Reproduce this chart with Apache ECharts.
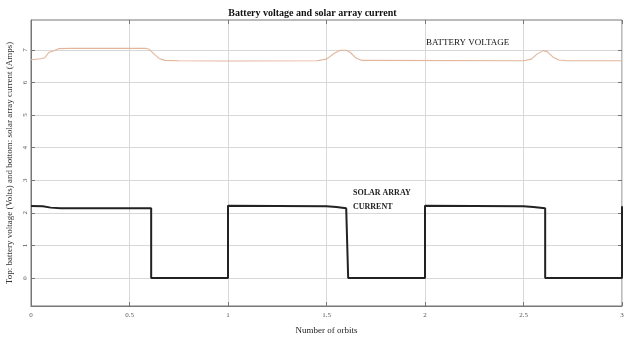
<!DOCTYPE html>
<html><head><meta charset="utf-8">
<script src="https://cdn.jsdelivr.net/npm/echarts@6/dist/echarts.min.js"></script>
<style>html,body{margin:0;padding:0;background:#fff}#c{width:625px;height:339px}</style>
</head><body><div id="c"></div>
<script>
const titleText = 'Battery voltage and solar array current';
const xTitle = 'Number of orbits';
const yTitle = 'Top: battery voltage (Volts) and bottom: solar array current (Amps)';
const xTickValues = [0, 0.5, 1, 1.5, 2, 2.5, 3];
const xTickLabels = ['0', '0.5', '1', '1.5', '2', '2.5', '3'];
const yTickValues = [0, 1, 2, 3, 4, 5, 6, 7];
const voltageX = [0, 0.05, 0.07, 0.09, 0.11, 0.14, 0.20, 0.58, 0.60, 0.63, 0.65, 0.68, 0.75, 1.0, 1.45, 1.50, 1.54, 1.57, 1.60, 1.62, 1.65, 1.68, 2.50, 2.54, 2.57, 2.60, 2.62, 2.65, 2.68, 2.72, 3.0];
const voltageY = [6.70, 6.73, 6.76, 6.92, 6.96, 7.04, 7.05, 7.05, 7.02, 6.85, 6.74, 6.68, 6.67, 6.66, 6.67, 6.72, 6.90, 6.99, 6.99, 6.93, 6.75, 6.68, 6.67, 6.72, 6.88, 6.98, 6.95, 6.78, 6.69, 6.67, 6.67];
const currentX = [0, 0.06, 0.10, 0.15, 0.61, 0.61, 1.0, 1.0, 1.50, 1.55, 1.60, 1.61, 1.61, 2.0, 2.0, 2.50, 2.55, 2.61, 2.61, 3.0, 3.0];
const currentY = [2.21, 2.20, 2.16, 2.14, 2.14, 0, 0, 2.22, 2.20, 2.18, 2.14, 2.14, 0, 0, 2.22, 2.20, 2.18, 2.14, 0, 0, 2.20];
const labelVoltage = 'BATTERY VOLTAGE';
const labelCurrent = ['SOLAR ARRAY', 'CURRENT'];

const serif = '"Liberation Serif", "DejaVu Serif", serif';
const chart = echarts.init(document.getElementById('c'));
const tickStyle = {show: true, inside: true, length: 4, lineStyle: {color: '#777'}};
chart.setOption({
  animation: false,
  title: {text: titleText, left: 'center', top: 3,
    textStyle: {fontFamily: serif, fontSize: 10, fontWeight: 'bold', color: '#111'}},
  grid: {left: 31, right: 3, top: 20, bottom: 33, show: true, borderColor: '#777', borderWidth: 1,
    containLabel: false, outerBoundsMode: 'none'},
  xAxis: [{
    type: 'value', min: 0, max: 3, interval: 0.5,
    name: xTitle, nameLocation: 'middle', nameGap: 20,
    nameTextStyle: {fontFamily: serif, fontSize: 9, color: '#222'},
    axisLine: {onZero: false, lineStyle: {color: '#777'}},
    axisTick: tickStyle,
    axisLabel: {fontFamily: serif, fontSize: 7, color: '#555', margin: 6,
      formatter: v => { const i = xTickValues.indexOf(v); return i >= 0 ? xTickLabels[i] : ''; }},
    splitLine: {show: true, lineStyle: {color: '#d8d8d8'}}
  }, {
    type: 'value', min: 0, max: 3, interval: 0.5, position: 'top',
    axisLine: {show: false, onZero: false}, axisTick: tickStyle, axisLabel: {show: false}, splitLine: {show: false}
  }],
  yAxis: [{
    type: 'value', min: -0.86, max: 7.92,
    name: yTitle, nameLocation: 'middle', nameGap: 7,
    nameTextStyle: {fontFamily: serif, fontSize: 9, color: '#333'},
    axisLine: {show: true, onZero: false, lineStyle: {color: '#777'}},
    axisTick: Object.assign({customValues: yTickValues}, tickStyle),
    axisLabel: {customValues: yTickValues, fontFamily: serif, fontSize: 7, color: '#555', rotate: 90, margin: 2},
    splitLine: {show: true, lineStyle: {color: '#d8d8d8'}}
  }, {
    type: 'value', min: -0.86, max: 7.92, position: 'right',
    axisLine: {show: false, onZero: false},
    axisTick: Object.assign({customValues: yTickValues}, tickStyle),
    axisLabel: {show: false}, splitLine: {show: false}
  }],
  series: [{
    name: 'Battery voltage', type: 'line', showSymbol: false, symbol: 'none',
    data: voltageX.map((x, i) => [x, voltageY[i]]),
    lineStyle: {color: '#e3b59b', width: 1.1}
  }, {
    name: 'Solar array current', type: 'line', showSymbol: false, symbol: 'none',
    data: currentX.map((x, i) => [x, currentY[i]]),
    lineStyle: {color: '#222', width: 2}
  }],
  graphic: [{
    type: 'text', left: 426, top: 38,
    style: {text: labelVoltage, font: '9px ' + serif, fill: '#111'}
  }, {
    type: 'text', left: 353, top: 186,
    style: {text: labelCurrent.join('\n'), font: 'bold 8px ' + serif, fill: '#222', lineHeight: 14}
  }]
});
</script></body></html>
